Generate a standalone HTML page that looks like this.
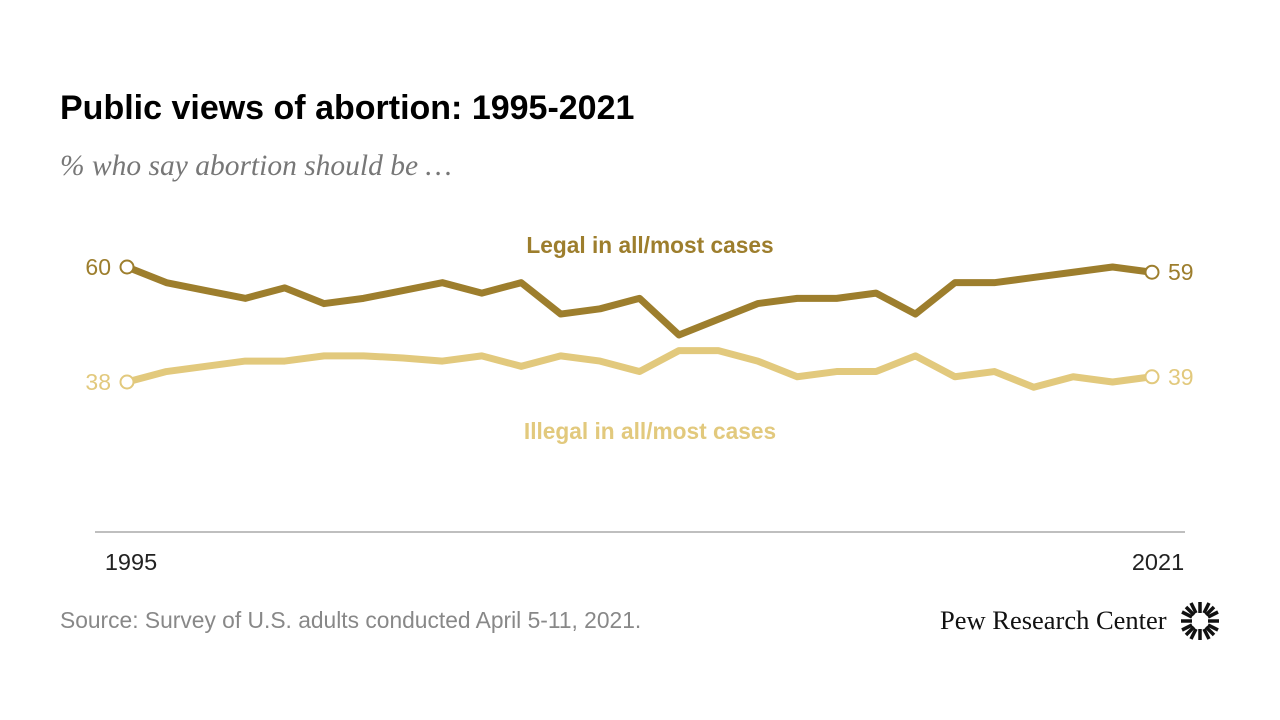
<!DOCTYPE html>
<html><head><meta charset="utf-8"><style>
body{margin:0;width:1280px;height:720px;background:#fff;font-family:"Liberation Sans",sans-serif;overflow:hidden;position:relative}
.t{position:absolute;white-space:nowrap}
</style></head><body>
<div class="t" style="left:60px;top:89px;font-size:34px;font-weight:bold;color:#000">Public views of abortion: 1995-2021</div>
<div class="t" style="left:60px;top:150px;font-size:29.5px;font-style:italic;color:#777;font-family:'Liberation Serif',serif">% who say abortion should be …</div>
<svg id="chart" width="1280" height="720" style="position:absolute;left:0;top:0">
<line x1="95" y1="532" x2="1185" y2="532" stroke="#aaa" stroke-width="1.5"/>
<text x="131" y="570" font-size="23.5" text-anchor="middle" fill="#222">1995</text>
<text x="1158" y="570" font-size="23.5" text-anchor="middle" fill="#222">2021</text>
<text x="650" y="253" font-size="22.7" font-weight="bold" text-anchor="middle" fill="#9d7e2d">Legal in all/most cases</text>
<text x="650" y="439" font-size="22.7" font-weight="bold" text-anchor="middle" fill="#e2c97d">Illegal in all/most cases</text>
</svg>
<div class="t" style="left:60px;top:607px;font-size:22.8px;color:#888">Source: Survey of U.S. adults conducted April 5-11, 2021.</div>
<div class="t" style="left:940px;top:605px;font-size:26.5px;color:#111;font-family:'Liberation Serif',serif">Pew Research Center</div>
<svg width="40" height="40" style="position:absolute;left:1180px;top:601px">
<g stroke="#111" stroke-width="3.5">
<line x1="20" y1="1" x2="20" y2="12"/><line x1="20" y1="28" x2="20" y2="39"/><line x1="1" y1="20" x2="12" y2="20"/><line x1="28" y1="20" x2="39" y2="20"/>
<line x1="6" y1="6" x2="14" y2="14"/><line x1="26" y1="26" x2="34" y2="34"/><line x1="34" y1="6" x2="26" y2="14"/><line x1="14" y1="26" x2="6" y2="34"/>
<line x1="11" y1="2" x2="16" y2="12"/><line x1="29" y1="38" x2="24" y2="28"/><line x1="2" y1="29" x2="12" y2="24"/><line x1="38" y1="11" x2="28" y2="16"/>
<line x1="29" y1="2" x2="24" y2="12"/><line x1="11" y1="38" x2="16" y2="28"/><line x1="2" y1="11" x2="12" y2="16"/><line x1="38" y1="29" x2="28" y2="24"/>
</g></svg>
<script>
const legal=[60,57,55.5,54,56,53,54,55.5,57,55,57,51,52,54,47,50,53,54,54,55,51,57,57,58,59,60,59];
const illegal=[38,40,41,42,42,43,43,42.6,42,43,41,43,42,40,44,44,42,39,40,40,43,39,40,37,39,38,39];
const endLabels=["1995","2021"];
const svg=document.getElementById('chart');
const NS='http://www.w3.org/2000/svg';
const x=i=>127+i*(1152-127)/(legal.length-1);
const y=v=>267+(60-v)*(115/22);
function draw(data,color,name){
  const p=document.createElementNS(NS,'polyline');
  p.setAttribute('points',data.map((v,i)=>x(i)+','+y(v)).join(' '));
  p.setAttribute('fill','none');p.setAttribute('stroke',color);p.setAttribute('stroke-width','7');p.setAttribute('stroke-linejoin','round');
  
  
  svg.appendChild(p);
  [0,data.length-1].forEach(i=>{
    const c=document.createElementNS(NS,'circle');
    c.setAttribute('cx',x(i));c.setAttribute('cy',y(data[i]));c.setAttribute('r','6.5');
    c.setAttribute('fill','#fff');c.setAttribute('stroke',color);c.setAttribute('stroke-width','2');
    
    
    svg.appendChild(c);
    const t=document.createElementNS(NS,'text');
    t.setAttribute('x',i===0?x(i)-16:x(i)+16);t.setAttribute('y',y(data[i])+8);
    t.setAttribute('font-size','23');t.setAttribute('fill',color);
    t.setAttribute('text-anchor',i===0?'end':'start');
    t.textContent=Math.round(data[i]);
    
    
    svg.appendChild(t);
  });
}
draw(illegal,'#e2c97d','illegal');
draw(legal,'#9d7e2d','legal');
</script>
</body></html>
